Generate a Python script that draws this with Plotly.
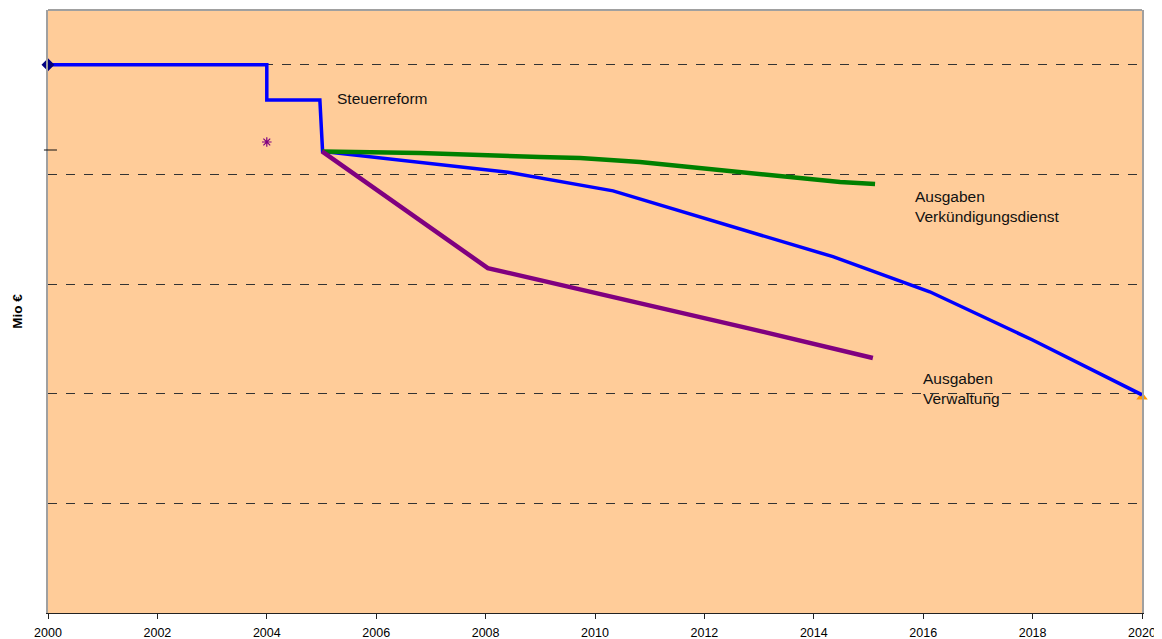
import plotly.graph_objects as go

# Data (arbitrary Mio € units)
step_years = [2000, 2004, 2004, 2004.97, 2005.02, 2008.41, 2010.33, 2014.35, 2016.12, 2018.0, 2020.0]
step_vals = [500, 500, 468, 468, 421, 402, 385, 325, 293, 249, 199]

green_years = [2005.01, 2006.07, 2006.80, 2008.99, 2009.73, 2010.82, 2012.65, 2013.56, 2014.48, 2015.12]
green_vals = [421, 420.4, 419.5, 415.9, 415, 411.4, 402.2, 396.7, 393.1, 391.2]

purple_years = [2005.01, 2008.04, 2012.71, 2015.08]
purple_vals = [421, 314.6, 260.8, 232.6]

diamond_pt = ([2000], [500])
asterisk_pt = ([2004], [429.6])
triangle_pt = ([2020], [197])

x_ticks = list(range(2000, 2021, 2))

FONT = "Liberation Sans, Arial, sans-serif"

fig = go.Figure()

fig.add_trace(go.Scatter(x=triangle_pt[0], y=triangle_pt[1], mode="markers",
                         marker=dict(symbol="triangle-up", size=10, color="#FF9900"),
                         showlegend=False, hoverinfo="skip", cliponaxis=False))
fig.add_trace(go.Scatter(x=step_years, y=step_vals, mode="lines",
                         line=dict(color="#0000FF", width=3.5),
                         showlegend=False))
fig.add_trace(go.Scatter(x=green_years, y=green_vals, mode="lines",
                         line=dict(color="#008000", width=4.5),
                         showlegend=False))
fig.add_trace(go.Scatter(x=purple_years, y=purple_vals, mode="lines",
                         line=dict(color="#800080", width=4.5),
                         showlegend=False))
fig.add_trace(go.Scatter(x=diamond_pt[0], y=diamond_pt[1], mode="markers",
                         marker=dict(symbol="diamond", size=10, color="#000080"),
                         showlegend=False, cliponaxis=False))
fig.add_trace(go.Scatter(x=asterisk_pt[0], y=asterisk_pt[1], mode="markers",
                         marker=dict(symbol="asterisk-open", size=8, color="#800080",
                                     line=dict(color="#800080", width=1.2)),
                         showlegend=False))

annos = [
    dict(x=2005.25, y=469.7, text="Steuerreform"),
    dict(x=2015.81, y=371.2, text="Ausgaben<br>Verkündigungsdienst"),
    dict(x=2015.96, y=205.2, text="Ausgaben<br>Verwaltung"),
]
for a in annos:
    fig.add_annotation(x=a["x"], y=a["y"], text=a["text"], showarrow=False,
                       xanchor="left", yanchor="middle", align="left",
                       font=dict(family=FONT, size=15.5, color="#111111"))

# top border
fig.add_shape(type="line", xref="paper", yref="paper", x0=0, x1=1, y0=1, y1=1,
              line=dict(color="#A0A0A0", width=2))
# small y-axis tick mark
fig.add_shape(type="line", xref="paper", yref="y", x0=-0.0037, x1=0.0082, y0=422.3, y1=422.3,
              line=dict(color="#111111", width=1))

# page body has an 8px margin: figure is 8px smaller and offset
fig.update_layout(
    width=1154, height=631,
    margin=dict(l=40, r=20, t=2, b=26),
    paper_bgcolor="white",
    plot_bgcolor="#FFCC99",
    font=dict(family=FONT, size=12.5, color="black"),
    xaxis=dict(range=[2000, 2020], tickmode="array", tickvals=x_ticks,
               ticktext=[str(t) for t in x_ticks],
               showgrid=False, zeroline=False, showline=True, linecolor="#222222",
               linewidth=1, ticks="outside", ticklen=5, tickcolor="#222222",
               tickfont=dict(size=12.5), automargin=False, ticklabelstandoff=3),
    yaxis=dict(range=[0, 550], dtick=100, showticklabels=False,
               showgrid=True, gridcolor="#333333", griddash="dash", gridwidth=1,
               zeroline=False, showline=True, linecolor="#A0A0A0", linewidth=2,
               mirror=True, automargin=False,
               title=dict(text="<b>Mio €</b>", font=dict(size=13.5), standoff=20)),
)

fig.write_html("out.html")
